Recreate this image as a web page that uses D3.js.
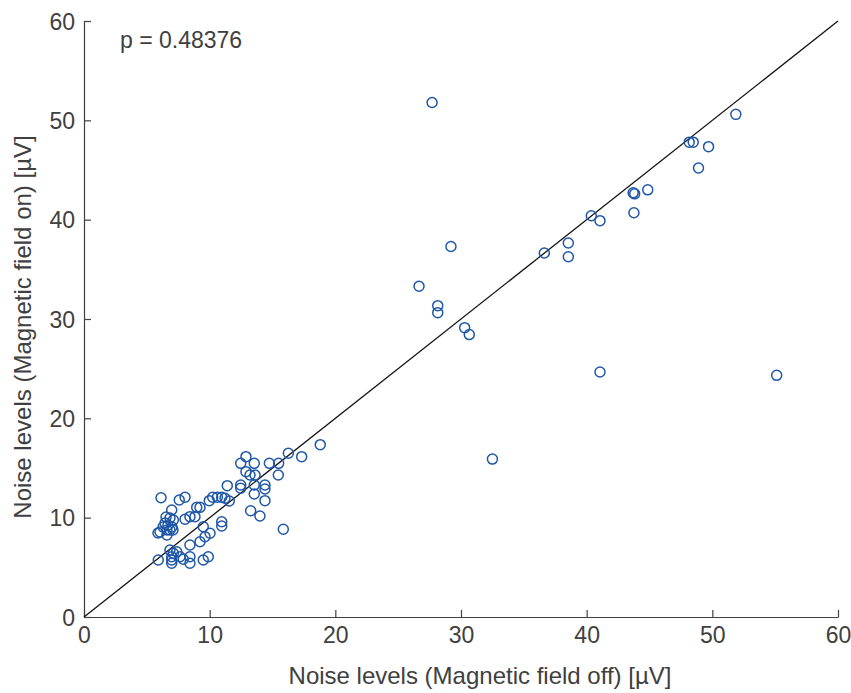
<!DOCTYPE html>
<html>
<head>
<meta charset="utf-8">
<script src="https://cdn.jsdelivr.net/npm/d3@7"></script>
<style>
  body { margin: 0; background: #fff; }
  svg { display: block; }
  text { font-family: "Liberation Sans", Arial, Helvetica, sans-serif; fill: #404040; }
</style>
</head>
<body>
<svg id="chart" width="851" height="693"></svg>
<script>
// Data
const fieldOff = [
  27.7, 51.87, 48.16, 48.48, 49.7, 48.9, 44.86, 43.7, 43.82, 43.76, 40.37, 41.06, 38.54, 38.54, 36.63,
  29.2, 26.66, 28.15, 28.15, 30.29, 30.66, 41.06, 55.12, 32.5,
  6.13, 6.98, 7.58, 8.04,
  6.53, 6.84, 7.11, 6.45, 6.68, 7.0, 6.29, 6.6, 6.84, 7.08, 6.05, 5.89, 6.6,
  8.04, 8.43, 8.83, 8.97, 9.23, 9.49, 10.03, 9.63, 9.23, 8.43,
  9.97, 10.24, 10.61, 10.96, 11.22, 11.56, 10.96, 10.96, 11.4,
  12.47, 12.47, 12.47, 12.89, 13.55, 12.89, 13.21, 13.61, 13.55, 13.55,
  14.4, 14.4, 14.4, 13.26, 14.0, 14.75, 15.49, 15.46, 15.86, 16.26, 17.32, 18.8,
  5.91, 6.84, 7.11, 7.38, 6.98, 6.98, 6.98, 7.64, 7.9, 8.43, 8.43, 9.49, 9.89
];
const fieldOn = [
  51.8, 50.6, 47.8, 47.8, 47.35, 45.2, 43.0, 42.7, 42.6, 40.7, 40.4, 39.9, 37.65, 36.27, 36.64,
  37.3, 33.3, 31.34, 30.64, 29.13, 28.43, 24.67, 24.33, 15.9,
  12.01, 10.77, 11.78, 12.05,
  10.07, 9.97, 9.77, 9.46, 9.26, 9.06, 9.06, 8.76, 8.76, 8.76, 8.56, 8.46, 8.26,
  9.84, 10.1, 10.1, 11.04, 11.04, 9.09, 8.43, 8.08, 7.58, 7.25,
  11.71, 12.05, 12.05, 12.05, 11.95, 11.68, 9.59, 9.16, 13.22,
  13.29, 12.96, 15.47, 16.14, 15.47, 14.63, 14.3, 14.3, 13.29, 12.38,
  13.29, 12.89, 11.71, 10.7, 10.17, 15.47, 15.47, 14.3, 8.83, 16.48, 16.14, 17.35,
  5.74, 6.75, 6.41, 6.57, 6.07, 5.74, 5.41, 6.07, 5.81, 6.07, 5.41, 5.74, 6.07
];
const tickValues = [0, 10, 20, 30, 40, 50, 60];
const xLabel = "Noise levels (Magnetic field off) [\u00b5V]";
const yLabel = "Noise levels (Magnetic field on) [\u00b5V]";
const annotation = "p = 0.48376";

(function () {
const points = fieldOff.map((v, i) => ({ x: v, y: fieldOn[i] }));

const svg = d3.select("#chart");
const mLeft = 84, mRight = 838, mTop = 21, mBottom = 617;
const x = d3.scaleLinear().domain([0, 60]).range([mLeft, mRight]);
const y = d3.scaleLinear().domain([0, 60]).range([mBottom, mTop]);

// Axes with inward ticks
const xAxis = d3.axisBottom(x).tickValues(tickValues).tickSizeInner(-7).tickSizeOuter(0);
const yAxis = d3.axisLeft(y).tickValues(tickValues).tickSizeInner(-7).tickSizeOuter(0);

const gx = svg.append("g").attr("transform", `translate(0,${mBottom})`).call(xAxis);
const gy = svg.append("g").attr("transform", `translate(${mLeft},0)`).call(yAxis);
[gx, gy].forEach(g => {
  g.select(".domain").attr("stroke", "#404040").attr("stroke-width", 1.2);
  g.selectAll(".tick line").attr("stroke", "#404040").attr("stroke-width", 1.2);
  g.selectAll(".tick text").attr("font-size", 23).attr("fill", "#404040")
    .attr("font-family", '"Liberation Sans", Arial, sans-serif');
});
gx.selectAll(".tick text").attr("y", 10).attr("dy", "0.71em");
gy.selectAll(".tick text").attr("x", -9).attr("dy", "0.35em");

// Identity line
svg.append("line")
  .attr("x1", x(0)).attr("y1", y(0))
  .attr("x2", x(60)).attr("y2", y(60))
  .attr("stroke", "#111").attr("stroke-width", 1.3);

// Points
svg.append("g").selectAll("circle")
  .data(points)
  .enter().append("circle")
  .attr("cx", d => x(d.x))
  .attr("cy", d => y(d.y))
  .attr("r", 5)
  .attr("fill", "none")
  .attr("stroke", "#1f57a8")
  .attr("stroke-width", 1.5);

// Annotation
svg.append("text")
  .attr("x", 120).attr("y", 48)
  .attr("font-size", 23)
  .attr("fill", "#222")
  .text(annotation);

// Axis titles
svg.append("text")
  .attr("x", 480).attr("y", 684)
  .attr("text-anchor", "middle")
  .attr("font-size", 24)
  .text(xLabel);

svg.append("text")
  .attr("transform", `translate(31,327) rotate(-90)`)
  .attr("text-anchor", "middle")
  .attr("font-size", 24)
  .text(yLabel);
})();
</script>
</body>
</html>
